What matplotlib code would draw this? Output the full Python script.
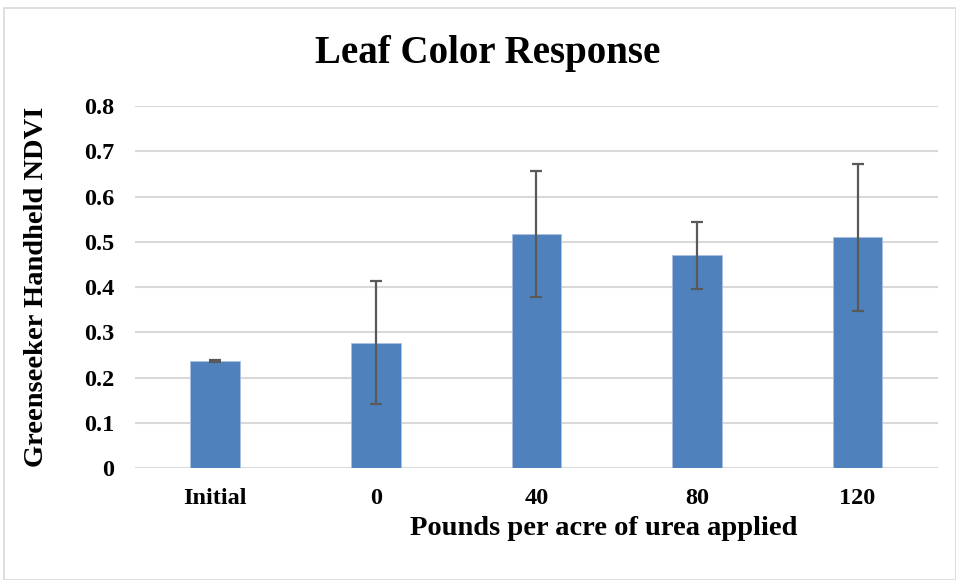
import numpy as np
import matplotlib.pyplot as plt
from matplotlib.patches import Rectangle

## data ##
categories = ['Initial', '0', '40', '80', '120']
ndvi = [0.237, 0.277, 0.517, 0.470, 0.510]
ndvi_err = [0.002, 0.136, 0.139, 0.075, 0.163]

bar_color = '#4f81bd'
grid_color = '#d9d9d9'
font = 'Liberation Serif'

fig = plt.figure(figsize=(9.56, 5.8), dpi=100)
ax = fig.add_axes([0.1412, 0.193, 0.981 - 0.1412, 0.817 - 0.193])

x = np.arange(len(categories))
ax.bar(x, ndvi, width=0.31, color=bar_color, edgecolor='#a9c0e0', linewidth=0.6, zorder=3)
ax.errorbar(x, ndvi, yerr=ndvi_err, fmt='none', ecolor='#595959',
            elinewidth=1.6, capsize=4.5, capthick=1.6, zorder=4)

ax.set_xlim(-0.5, len(categories) - 0.5)
ax.set_ylim(0, 0.8)
ax.set_yticks(np.arange(0, 0.81, 0.1))
ax.set_yticklabels(['0'] + ['%.1f' % v for v in np.arange(0.1, 0.81, 0.1)])
ax.set_xticks(x)
ax.set_xticklabels(categories)

ax.grid(axis='y', color=grid_color, linewidth=1.5, zorder=0)
ax.set_axisbelow(True)
for s in ax.spines.values():
    s.set_visible(False)
ax.tick_params(length=0)
ax.tick_params(axis='y', pad=15)
ax.tick_params(axis='x', pad=14)
for lab in ax.get_xticklabels() + ax.get_yticklabels():
    lab.set_fontfamily(font)
    lab.set_fontweight('bold')
    lab.set_fontsize(17.5)

ax.set_xlabel('Pounds per acre of urea applied', fontfamily=font,
              fontweight='bold', fontsize=20.5, va='center')
ax.xaxis.set_label_coords(0.584, -0.166)
ax.set_ylabel('Greenseeker Handheld NDVI', fontfamily=font,
              fontweight='bold', fontsize=20.5, va='center')
ax.yaxis.set_label_coords(-0.127 + 0.004, 0.5)
fig.text(0.51, 0.908, 'Leaf Color Response', ha='center', va='center',
         fontfamily=font, fontweight='bold', fontsize=28)

# outer chart border
fig.patches.append(Rectangle((4 / 956, 0), 1 - 4 / 956 - 0.5 / 956, 1 - 8 / 580,
                             transform=fig.transFigure, fill=False,
                             edgecolor=grid_color, linewidth=1.2))

fig.savefig('out.png', dpi=100)
